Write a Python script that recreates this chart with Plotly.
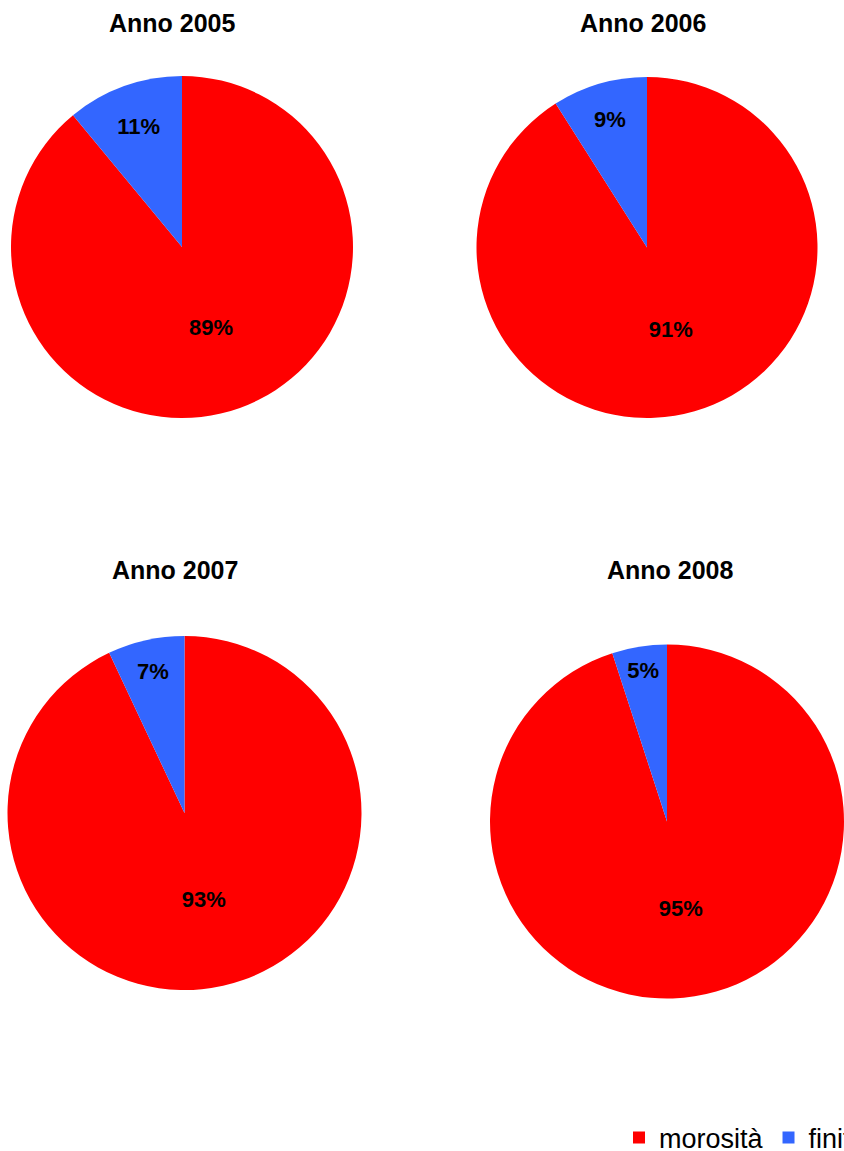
import plotly.graph_objects as go

W, H = 844, 1151

years = ["Anno 2005", "Anno 2006", "Anno 2007", "Anno 2008"]
categories = ["morosità", "finite"]
morosita = [89, 91, 93, 95]
finite = [11, 9, 7, 5]
colors = ["#FF0000", "#3366FF"]

# pie placement in pixels: (left, right, top, bottom)
boxes = [(11, 353, 76, 418), (476.5, 817.5, 77, 418), (7.5, 361.5, 636, 990), (490, 844, 641, 1002)]
title_pos = [(172.5, 23), (643, 23), (174.5, 570), (670.5, 570)]

FONT = "Liberation Sans, Arial, sans-serif"

fig = go.Figure()
for i, yr in enumerate(years):
    l, r, t, b = boxes[i]
    fig.add_trace(go.Pie(
        labels=categories,
        values=[morosita[i], finite[i]],
        marker=dict(colors=colors, line=dict(width=0)),
        sort=False,
        direction="clockwise",
        rotation=0,
        texttemplate="%{value}%",
        textposition="inside",
        insidetextorientation="horizontal",
        textfont=dict(family=FONT, size=22, color="black", weight="bold"),
        domain=dict(x=[l / W, r / W], y=[1 - b / H, 1 - t / H]),
        showlegend=(i == 0),
        hoverinfo="label+percent",
    ))
    tx, ty = title_pos[i]
    fig.add_annotation(
        text="<b>%s</b>" % yr, x=tx / W, y=1 - ty / H, xref="paper", yref="paper",
        xanchor="center", yanchor="middle", showarrow=False,
        font=dict(family=FONT, size=25, color="black"),
    )

fig.update_layout(
    width=W, height=H,
    margin=dict(l=0, r=0, t=0, b=0, autoexpand=False),
    paper_bgcolor="white", plot_bgcolor="white",
    legend=dict(
        orientation="h", x=619 / W, xanchor="left", y=1 - 1138 / H, yanchor="middle",
        font=dict(family=FONT, size=27, color="black"),
        traceorder="normal",
    ),
    uniformtext=dict(minsize=22, mode="show"),
)

fig.write_html(
    "out.html",
    config={"displayModeBar": False},
    post_script="document.body.style.margin='0';document.body.style.overflow='hidden';",
)
